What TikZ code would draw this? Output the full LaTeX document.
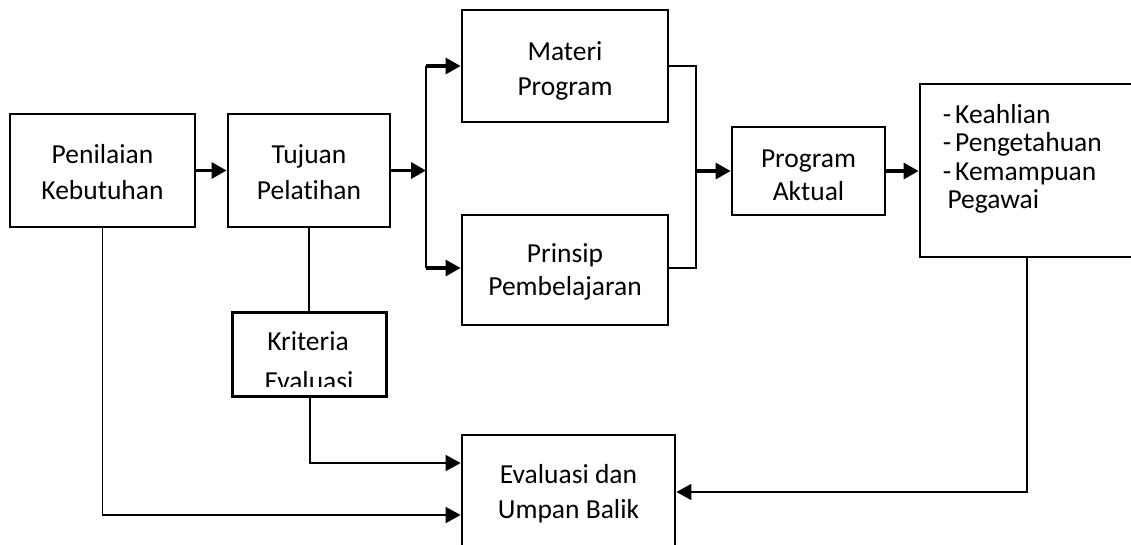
\documentclass[tikz,border=0pt]{standalone}
\usepackage{fontspec}
\setmainfont{Carlito}[Ligatures=NoCommon]
\usetikzlibrary{arrows.meta}
\begin{document}
\begin{tikzpicture}[x=1pt,y=-1pt,
  box/.style={draw, line width=2.8pt, inner sep=0pt},
  lbl/.style={anchor=base, inner sep=0pt, font=\fontsize{27.5}{30}\selectfont},
  lblw/.style={lbl, anchor=base west},
  arr/.style={line width=3.2pt, -{Triangle[length=15pt,width=16pt]}},
  thinline/.style={line width=1.5pt},
  thinarr/.style={line width=1.8pt, -{Triangle[length=15pt,width=16pt]}}]
\useasboundingbox (0,0) rectangle (1131,544);
% boxes
\node[box, minimum width=185pt, minimum height=113pt] (pk) at (102.5,170.5) {};
\node[box, minimum width=162pt, minimum height=113pt] (tp) at (309,170.5) {};
\node[box, minimum width=206pt, minimum height=112pt] (mp) at (565,66) {};
\node[box, minimum width=206pt, minimum height=110pt] (pp) at (565,270) {};
\node[box, minimum width=153pt, minimum height=88pt] (pa) at (808.5,171) {};
\node[box, minimum width=230pt, minimum height=173pt] (kp) at (1035,170.5) {};
\node[box, minimum width=154pt, minimum height=84pt] (ke) at (309.7,354.7) {};
\node[box, minimum width=213pt, minimum height=130pt] (eu) at (568.5,500) {};
% labels
\node[lbl] (pk1) at (102.5,163.3) {Penilaian};
\node[lbl] (pk2) at (102.5,199.3) {Kebutuhan};
\node[lbl] (tp1) at (309,163.3) {Tujuan};
\node[lbl] (tp2) at (309,199.3) {Pelatihan};
\node[lbl] (mp1) at (565,60) {Materi};
\node[lbl] (mp2) at (565,95) {Program};
\node[lbl] (pp1) at (565,262.3) {Prinsip};
\node[lbl] (pp2) at (565,295.7) {Pembelajaran};
\node[lbl] (pa1) at (808.5,167.3) {Program};
\node[lbl] (pa2) at (808.5,200.7) {Aktual};
\node[lblw] (kd1) at (942.7,123.3) {-};
\node[lblw] (kp1) at (955,123.3) {Keahlian};
\node[lblw] (kd2) at (942.7,151.7) {-};
\node[lblw] (kp2) at (955,151.7) {Pengetahuan};
\node[lblw] (kd3) at (942.7,180) {-};
\node[lblw] (kp3) at (955,180) {Kemampuan};
\node[lblw] (kp4) at (947.3,208.3) {Pegawai};
\node[lbl] (ke1) at (308,350) {Kriteria};
\begin{scope}
  \clip (230,300) rectangle (390,386.5);
  \node[lbl] (ke2) at (309,390.5) {Evaluasi};
\end{scope}
\node[lbl] (eu1) at (568.5,483) {Evaluasi dan};
\node[lbl] (eu2) at (568.5,518) {Umpan Balik};
% connectors
\coordinate (s1) at (426,170.5);
\coordinate (sa) at (426,66);
\coordinate (sb) at (426,268);
\coordinate (ma) at (696,66);
\coordinate (mb) at (696,268);
\coordinate (m1) at (696,171);
\draw[arr] (pk.east) -- (tp.west);
\draw[arr] (tp.east) -- (s1);
\draw[line width=2.8pt] (sa) -- (sb);
\draw[arr] (sa) -- (mp.west);
\draw[arr] (sb) -- (sb -| pp.west);
\draw[thinline] (mp.east) -- (ma) -- (mb) -- (mb -| pp.east);
\draw[arr] (m1) -- (pa.west);
\draw[arr] (pa.east) -- (pa.east -| kp.west);
\draw[thinline] (tp.south) -- (tp.south |- ke.north);
\draw[thinarr] (ke.south) |- ([yshift=37pt]eu.west);
\draw[thinarr] (pk.south) |- ([yshift=-15pt]eu.west);
\draw[thinarr] ([xshift=-8pt]kp.south) |- ([yshift=8pt]eu.east);
\end{tikzpicture}
\end{document}
